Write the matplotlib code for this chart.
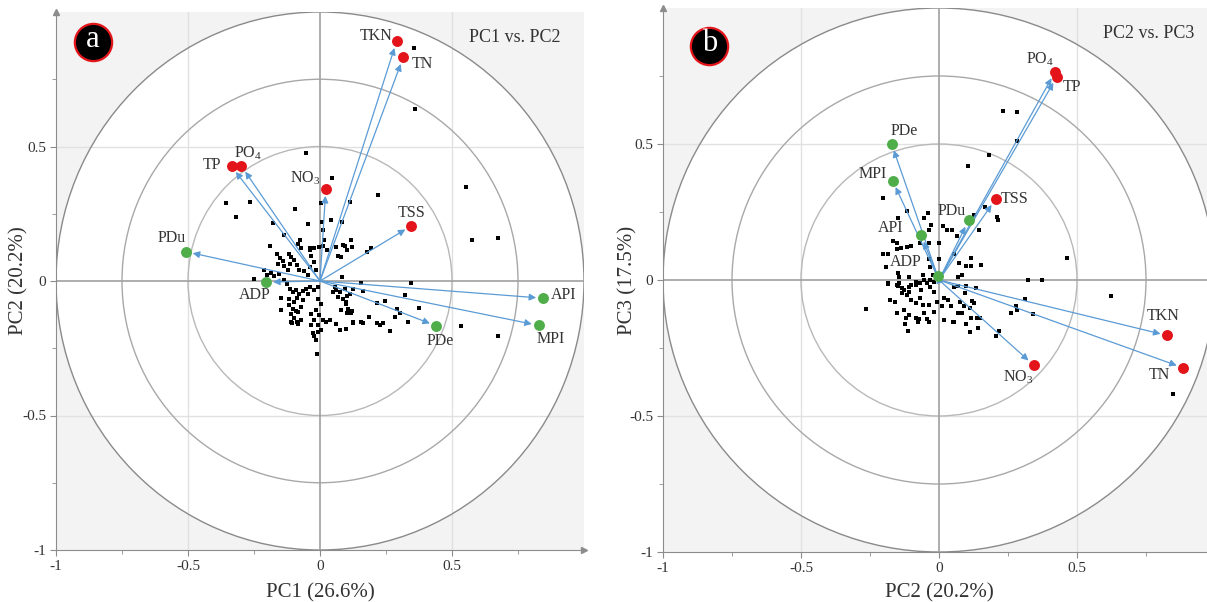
import matplotlib
matplotlib.use("Agg")
import matplotlib.pyplot as plt
from matplotlib.patches import Circle

plt.rcParams['font.family'] = ['Liberation Serif', 'DejaVu Serif']
plt.rcParams['mathtext.fontset'] = 'custom'
plt.rcParams['mathtext.rm'] = 'Liberation Serif'
plt.rcParams['mathtext.default'] = 'regular'

# === variables (loadings) ===
var_names = ['TKN', 'TN', 'TP', 'PO$_4$', 'NO$_3$', 'TSS', 'PDu', 'ADP', 'API', 'MPI', 'PDe']
var_groups = ['r', 'r', 'r', 'r', 'r', 'r', 'g', 'g', 'g', 'g', 'g']

# panel a: PC1 vs PC2
a_var_x = [0.290, 0.315, -0.335, -0.298, 0.022, 0.346, -0.508, -0.204, 0.845, 0.828, 0.441]
a_var_y = [0.891, 0.831, 0.426, 0.428, 0.342, 0.205, 0.109, -0.004, -0.064, -0.165, -0.167]
# label offsets in points
a_lab_dx = [-15, 14, -14, 5, -15, 0, -10, -8, 15, 9, 3]
a_lab_dy = [4, -5, 1, 9, 8, 9, 10, -9, 2, -10, -11]

# panel b: PC2 vs PC3
b_var_x = [0.827, 0.885, 0.427, 0.420, 0.343, 0.205, 0.107, -0.004, -0.065, -0.168, -0.172]
b_var_y = [-0.204, -0.323, 0.747, 0.764, -0.313, 0.297, 0.219, 0.015, 0.165, 0.365, 0.501]
b_lab_dx = [-3, -17, 11, -11, -11, 14, -12, -23, -22, -14, 9]
b_lab_dy = [14, -5, -7, 9, -9, 0, 7, 10, 5, 5, 9]

# === observations (scores) ===
a_obs = [
    (0.355, 0.866), (0.36, 0.639), (-0.053, 0.476), (0.045, 0.384), (-0.356, 0.29), (-0.267, 0.292),
    (-0.32, 0.239), (-0.095, 0.267), (0.003, 0.29), (0.112, 0.292), (0.22, 0.318), (0.554, 0.351),
    (0.574, 0.153), (0.674, 0.16), (-0.178, 0.215), (-0.044, 0.211), (0.043, 0.227), (0.082, 0.219),
    (0.012, 0.19), (-0.137, 0.17), (-0.075, 0.152), (0.194, 0.124), (0.179, 0.108), (-0.189, 0.13),
    (0.345, -0.006), (0.321, -0.052), (0.008, 0.221), (-0.039, 0.122), (-0.005, 0.125), (0.014, 0.153),
    (0.093, 0.13), (0.116, 0.153), (0.088, 0.134), (0.104, 0.115), (0.078, 0.09), (0.12, 0.128),
    (0.084, 0.016), (-0.083, 0.139), (-0.072, 0.124), (-0.037, 0.117), (-0.022, 0.124), (0.013, 0.129),
    (0.027, 0.117), (0.061, 0.127), (0.07, 0.092), (-0.164, 0.102), (-0.151, 0.087), (-0.142, 0.074),
    (-0.159, 0.065), (-0.136, 0.055), (-0.117, 0.102), (-0.108, 0.089), (-0.1, 0.077), (-0.113, 0.065),
    (-0.123, 0.042), (-0.088, 0.058), (-0.079, 0.042), (-0.06, 0.037), (-0.045, 0.022), (-0.034, 0.092),
    (-0.024, 0.071), (-0.039, 0.052), (-0.015, 0.04), (-0.212, 0.042), (-0.187, 0.03), (-0.155, 0.027),
    (-0.174, 0.017), (-0.251, 0.006), (-0.2, 0.021), (-0.136, 0.002), (-0.126, -0.012), (-0.113, -0.029),
    (-0.104, -0.041), (-0.092, -0.032), (-0.079, -0.047), (-0.066, -0.037), (-0.053, -0.029), (-0.037, -0.022),
    (-0.022, -0.035), (-0.009, -0.022), (-0.146, -0.062), (-0.117, -0.066), (-0.1, -0.078), (-0.088, -0.062),
    (-0.066, -0.069), (-0.045, -0.047), (-0.006, -0.066), (0.004, -0.084), (-0.117, -0.091), (-0.104, -0.103),
    (-0.092, -0.112), (-0.073, -0.097), (-0.111, -0.122), (-0.083, -0.115), (-0.1, -0.136), (-0.072, -0.146),
    (-0.108, -0.153), (-0.083, -0.159), (-0.146, -0.109), (-0.034, -0.122), (-0.015, -0.109), (-0.003, -0.128),
    (0.01, -0.146), (-0.022, -0.146), (-0.034, -0.165), (-0.009, -0.165), (0.004, -0.184), (0.023, -0.153),
    (0.036, -0.146), (0.061, -0.159), (0.074, -0.184), (0.099, -0.177), (-0.015, -0.221), (-0.009, -0.19),
    (-0.013, -0.27), (0.048, -0.041), (0.061, -0.032), (0.067, -0.06), (0.087, -0.066), (0.099, -0.084),
    (0.08, -0.109), (0.106, -0.103), (0.157, -0.006), (0.161, -0.037), (0.126, -0.031), (0.113, -0.05),
    (0.101, -0.056), (0.097, -0.077), (0.057, -0.023), (0.077, -0.04), (0.093, -0.031), (0.215, -0.08),
    (0.245, -0.074), (0.293, -0.105), (0.303, -0.12), (0.284, -0.133), (0.374, -0.101), (0.332, -0.153),
    (0.186, -0.134), (0.215, -0.157), (0.229, -0.163), (0.266, -0.185), (0.535, -0.169), (0.674, -0.204),
    (0.112, -0.114), (0.119, -0.12), (0.157, -0.151), (0.161, -0.157), (0.125, -0.154), (-0.026, -0.194),
    (-0.021, -0.206), (-0.146, -0.107), (-0.107, -0.157), (-0.088, -0.154), (0.126, -0.155), (0.103, -0.118),
    (0.123, -0.112), (0.237, -0.157),
]

b_obs = [
    (0.233, 0.623), (0.283, 0.617), (0.282, 0.51), (0.182, 0.461), (0.104, 0.418), (-0.203, 0.303),
    (-0.117, 0.254), (-0.041, 0.248), (-0.054, 0.227), (-0.028, 0.203), (-0.038, 0.184), (-0.149, 0.227),
    (0.166, 0.27), (0.21, 0.233), (0.214, 0.221), (0.127, 0.24), (0.146, 0.182), (0.013, 0.197),
    (0.029, 0.184), (0.047, 0.184), (0.064, 0.16), (-0.168, 0.145), (-0.153, 0.135), (-0.136, 0.117),
    (-0.115, 0.12), (-0.102, 0.125), (-0.153, 0.113), (-0.07, 0.135), (-0.038, 0.135), (0.0, 0.135),
    (-0.203, 0.095), (-0.185, 0.095), (-0.191, 0.049), (-0.038, 0.076), (0.0, 0.076), (-0.032, 0.049),
    (0.055, 0.096), (0.074, 0.061), (0.099, 0.052), (0.117, 0.052), (0.117, 0.08), (0.153, 0.055),
    (0.465, 0.08), (-0.149, 0.025), (-0.108, 0.012), (-0.144, 0.012), (-0.057, 0.017), (-0.022, 0.017),
    (-0.032, 0.0), (-0.054, 0.0), (0.07, 0.012), (0.083, 0.018), (-0.185, -0.012), (-0.146, -0.012),
    (-0.134, -0.031), (-0.108, -0.025), (-0.083, -0.018), (-0.068, -0.012), (-0.045, -0.01), (-0.019, -0.006),
    (-0.134, -0.049), (-0.108, -0.043), (0.07, -0.022), (0.099, -0.022), (0.134, -0.031), (0.322, 0.0),
    (0.373, 0.0), (0.622, -0.059), (0.31, -0.071), (-0.265, -0.106), (0.847, -0.42), (0.28, -0.096),
    (0.283, -0.11), (0.261, -0.123), (0.341, -0.126), (0.208, -0.206), (0.219, -0.187), (0.112, -0.193),
    (0.143, -0.175), (0.099, -0.163), (0.115, -0.139), (0.136, -0.141), (0.15, -0.141), (0.096, -0.049),
    (0.076, -0.08), (0.089, -0.096), (0.121, -0.076), (0.127, -0.086), (0.111, -0.104), (0.07, -0.123),
    (0.055, -0.153), (0.083, -0.123), (0.045, -0.096), (0.032, -0.074), (0.019, -0.067), (0.01, -0.096),
    (-0.009, -0.08), (-0.017, -0.045), (-0.032, -0.025), (-0.064, -0.037), (-0.07, -0.067), (-0.083, -0.086),
    (-0.102, -0.074), (-0.115, -0.055), (-0.127, -0.037), (-0.149, -0.022), (-0.102, -0.018), (-0.083, -0.006),
    (-0.178, -0.074), (-0.159, -0.08), (-0.153, -0.123), (-0.127, -0.11), (-0.121, -0.141), (-0.108, -0.129),
    (-0.083, -0.141), (-0.076, -0.153), (-0.054, -0.123), (-0.045, -0.145), (-0.038, -0.153), (-0.038, -0.092),
    (-0.057, -0.092), (-0.019, -0.117), (0.017, -0.147), (0.052, -0.153), (-0.125, -0.16), (-0.112, -0.187),
    (-0.073, -0.145), (-0.185, -0.015), (-0.153, -0.018), (0.055, -0.027),
]

RED = '#e3151a'
GREEN = '#4fae4a'
ARROW = '#5b9bd5'
TXT = '#333333'


def draw_panel(ax, var_x, var_y, lab_dx, lab_dy, obs, letter, title, xlabel, ylabel,
               letter_pos, title_pos, xlab_y, ylab_x):
    ax.set_xlim(-1, 1)
    ax.set_ylim(-1, 1)
    ax.set_facecolor('#f3f3f3')

    # white disc + correlation circles
    ax.add_patch(Circle((0, 0), 1.0, facecolor='white', edgecolor='none', zorder=0.5))
    for v in [-0.5, 0.5]:
        ax.axvline(v, color='#e1e1e1', lw=1, zorder=1)
        ax.axhline(v, color='#e1e1e1', lw=1, zorder=1)
    ax.add_patch(Circle((0, 0), 1.0, facecolor='none', edgecolor='#8a8a8a', lw=1, zorder=2))
    ax.add_patch(Circle((0, 0), 0.75, facecolor='none', edgecolor='#a8a8a8', lw=1, zorder=2))
    ax.add_patch(Circle((0, 0), 0.5, facecolor='none', edgecolor='#b8b8b8', lw=1, zorder=2))
    ax.axvline(0, color='#a0a0a0', lw=1.2, zorder=2)
    ax.axhline(0, color='#a0a0a0', lw=1.2, zorder=2)

    # observations
    ox = [p[0] for p in obs]
    oy = [p[1] for p in obs]
    ax.scatter(ox, oy, marker='s', s=7, color='black', linewidths=0, zorder=3)

    # loading vectors
    for i in range(len(var_x)):
        ax.annotate('', xy=(var_x[i], var_y[i]), xytext=(0, 0),
                    arrowprops=dict(arrowstyle='-|>', color=ARROW, lw=0.9,
                                    shrinkA=0, shrinkB=5, mutation_scale=10),
                    zorder=4)
    for i in range(len(var_x)):
        c = RED if var_groups[i] == 'r' else GREEN
        ax.scatter(var_x[i], var_y[i], s=62, color=c, linewidths=0, zorder=5)
        ax.annotate(var_names[i], (var_x[i], var_y[i]), xytext=(lab_dx[i], lab_dy[i]),
                    textcoords='offset points', ha='center', va='center',
                    fontsize=11.5, color=TXT, zorder=6)

    # axes styling
    for s in ['top', 'right']:
        ax.spines[s].set_visible(False)
    for s in ['left', 'bottom']:
        ax.spines[s].set_color('#8c8c8c')
    ax.set_xticks([-1, -0.5, 0, 0.5])
    ax.set_yticks([-1, -0.5, 0, 0.5])
    ax.set_xticklabels(['-1', '-0.5', '0', '0.5'])
    ax.set_yticklabels(['-1', '-0.5', '0', '0.5'])
    ax.set_xticks([-0.75, -0.25, 0.25, 0.75], minor=True)
    ax.set_yticks([-0.75, -0.25, 0.25, 0.75], minor=True)
    ax.tick_params(which='major', direction='out', length=4, color='#8c8c8c',
                   labelsize=11, labelcolor=TXT, pad=3)
    ax.tick_params(which='minor', direction='out', length=3, color='#8c8c8c')
    ax.plot(0, 1, '^', transform=ax.transAxes, clip_on=False, color='#8c8c8c', ms=5, zorder=7)
    ax.plot(1, 0, '>', transform=ax.transAxes, clip_on=False, color='#8c8c8c', ms=5, zorder=7)

    ax.set_xlabel(xlabel, fontsize=15, color=TXT)
    ax.set_ylabel(ylabel, fontsize=15, color=TXT)
    ax.xaxis.set_label_coords(0.5, xlab_y)
    ax.yaxis.set_label_coords(ylab_x, 0.5)

    # panel letter + title
    ax.scatter(letter_pos[0], letter_pos[1], s=720, color='black', edgecolors=RED,
               linewidths=1.6, transform=ax.transAxes, clip_on=False, zorder=8)
    ax.text(letter_pos[0], letter_pos[1] + 0.004, letter, transform=ax.transAxes,
            ha='center', va='center', fontsize=22, color='white', zorder=9)
    ax.text(title_pos[0], title_pos[1], title, transform=ax.transAxes,
            ha='center', va='center', fontsize=13, color=TXT, zorder=9)


fig = plt.figure(figsize=(12.07, 6.02), dpi=100)
ax_a = fig.add_axes([56 / 1207, 52 / 602, 528 / 1207, 538 / 602])
ax_b = fig.add_axes([663 / 1207, 50 / 602, 552 / 1207, 544 / 602])

draw_panel(ax_a, a_var_x, a_var_y, a_lab_dx, a_lab_dy, a_obs, 'a', 'PC1 vs. PC2',
           'PC1 (26.6%)', 'PC2 (20.2%)', (0.07, 0.944), (0.869, 0.953), -0.062, -0.052)
draw_panel(ax_b, b_var_x, b_var_y, b_lab_dx, b_lab_dy, b_obs, 'b', 'PC2 vs. PC3',
           'PC2 (20.2%)', 'PC3 (17.5%)', (0.084, 0.931), (0.879, 0.954), -0.058, -0.047)

fig.savefig('out.png', dpi=100)
